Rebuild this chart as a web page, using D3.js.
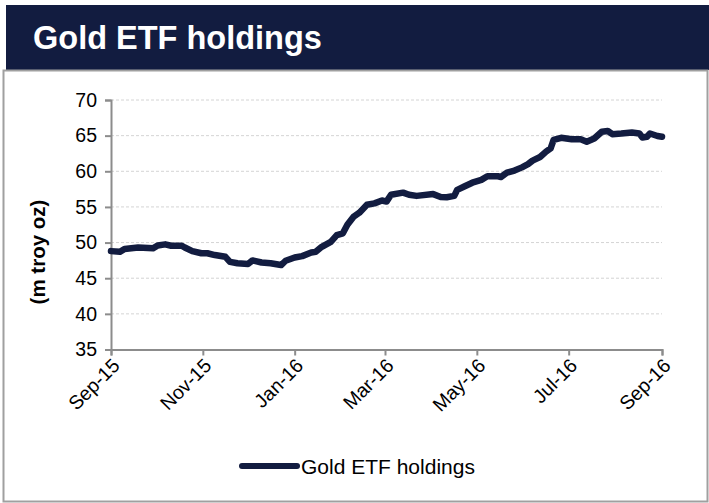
<!DOCTYPE html>
<html>
<head>
<meta charset="utf-8">
<script src="https://cdn.jsdelivr.net/npm/d3@7"></script>
<style>
  body { margin: 0; background: #fff; }
  svg { font-family: "Liberation Sans", Arial, sans-serif; }
</style>
</head>
<body>
<div id="container"></div>
<script>
// Data (m troy oz)
var dates = ["2015-09-01", "2015-09-07", "2015-09-10", "2015-09-19", "2015-09-29", "2015-10-02",
  "2015-10-07", "2015-10-11", "2015-10-18", "2015-10-20", "2015-10-25", "2015-10-31",
  "2015-11-04", "2015-11-09", "2015-11-16", "2015-11-19", "2015-11-24", "2015-12-01",
  "2015-12-04", "2015-12-10", "2015-12-16", "2015-12-23", "2015-12-26", "2016-01-01",
  "2016-01-06", "2016-01-12", "2016-01-15", "2016-01-19", "2016-01-25", "2016-01-29",
  "2016-02-02", "2016-02-05", "2016-02-09", "2016-02-13", "2016-02-18", "2016-02-23",
  "2016-02-28", "2016-03-02", "2016-03-05", "2016-03-13", "2016-03-17", "2016-03-22",
  "2016-04-02", "2016-04-07", "2016-04-11", "2016-04-16", "2016-04-18", "2016-04-23",
  "2016-04-28", "2016-05-04", "2016-05-08", "2016-05-15", "2016-05-17", "2016-05-21",
  "2016-05-26", "2016-05-31", "2016-06-04", "2016-06-07", "2016-06-12", "2016-06-16",
  "2016-06-19", "2016-06-21", "2016-06-26", "2016-07-03", "2016-07-09", "2016-07-13",
  "2016-07-18", "2016-07-23", "2016-07-27", "2016-07-30", "2016-08-05", "2016-08-12",
  "2016-08-17", "2016-08-19", "2016-08-22", "2016-08-24", "2016-08-29", "2016-09-01"];
var holdings = [48.8, 48.7, 49.1, 49.3, 49.2, 49.6,
  49.75, 49.55, 49.55, 49.3, 48.8, 48.5,
  48.5, 48.25, 48.0, 47.3, 47.1, 47.0,
  47.5, 47.2, 47.1, 46.85, 47.45, 47.9,
  48.1, 48.6, 48.7, 49.4, 50.1, 51.05,
  51.3, 52.5, 53.6, 54.2, 55.3, 55.5,
  55.9, 55.75, 56.7, 57.0, 56.7, 56.55,
  56.8, 56.4, 56.35, 56.55, 57.4, 57.9,
  58.4, 58.8, 59.3, 59.3, 59.2, 59.8,
  60.1, 60.55, 61.0, 61.5, 62.0, 62.75,
  63.2, 64.4, 64.7, 64.5, 64.5, 64.15,
  64.6, 65.55, 65.65, 65.2, 65.3, 65.45,
  65.3, 64.75, 64.85, 65.3, 64.95, 64.85];
var yTicks = [35, 40, 45, 50, 55, 60, 65, 70];
var xTicks = ["2015-09-01", "2015-11-01", "2016-01-01", "2016-03-01", "2016-05-01", "2016-07-01", "2016-09-01"];

var parse = d3.timeParse("%Y-%m-%d");
var data = dates.map(function(d, i) { return {date: parse(d), value: holdings[i]}; });

var width = 709, height = 503;
var navy = "#121c40";

var svg = d3.select("#container")
  .append("svg")
    .attr("width", width)
    .attr("height", height);

// Title banner and frame
svg.append("rect")
  .attr("x", 6).attr("y", 5)
  .attr("width", width - 6).attr("height", 65)
  .attr("fill", navy);
svg.append("text")
  .attr("x", 33).attr("y", 49)
  .attr("fill", "#fff")
  .style("font-size", "32.5px")
  .style("font-weight", "bold")
  .text("Gold ETF holdings");
svg.append("rect")
  .attr("x", 3.5).attr("y", 70.5)
  .attr("width", 704).attr("height", 431)
  .attr("fill", "none")
  .attr("stroke", "#a0a0a0")
  .attr("stroke-width", 2);

// Scales
var x = d3.scaleTime()
  .domain([parse("2015-09-01"), parse("2016-09-01")])
  .range([111, 662]);
var y = d3.scaleLinear()
  .domain([35, 70])
  .range([349.5, 100]);

// Gridlines
svg.append("g")
  .selectAll("line")
  .data(yTicks.slice(1))
  .enter()
  .append("line")
    .attr("x1", x.range()[0]).attr("x2", x.range()[1])
    .attr("y1", function(d) { return y(d); })
    .attr("y2", function(d) { return y(d); })
    .attr("stroke", "#d4d4d4")
    .attr("stroke-dasharray", "3,2");

// Axes
var yAxis = svg.append("g")
  .attr("transform", "translate(" + x.range()[0] + ",0)")
  .call(d3.axisLeft(y).tickValues(yTicks).tickSize(6).tickPadding(8));
var xAxis = svg.append("g")
  .attr("transform", "translate(0," + y(35) + ")")
  .call(d3.axisBottom(x).tickValues(xTicks.map(parse)).tickSize(6).tickFormat(d3.timeFormat("%b-%y")));

[yAxis, xAxis].forEach(function(g) {
  g.select(".domain").attr("stroke", "#8c8c8c").attr("stroke-width", 2);
  g.selectAll(".tick line").attr("stroke", "#8c8c8c").attr("stroke-width", 2);
  g.selectAll("text").attr("fill", "#000").style("font-size", "19.5px").style("font-family", "Liberation Sans, Arial, sans-serif");
});

xAxis.selectAll("text")
  .attr("text-anchor", "end")
  .attr("dy", "0")
  .attr("transform", "translate(3,11) rotate(-45)");

// Y axis title
svg.append("text")
  .attr("transform", "translate(45,252) rotate(-90)")
  .attr("text-anchor", "middle")
  .style("font-size", "20.5px")
  .style("font-weight", "bold")
  .text("(m troy oz)");

// Line
var line = d3.line()
  .x(function(d) { return x(d.date); })
  .y(function(d) { return y(d.value); });

svg.append("path")
  .datum(data)
  .attr("d", line)
  .attr("fill", "none")
  .attr("stroke", navy)
  .attr("stroke-width", 6.5)
  .attr("stroke-linejoin", "round")
  .attr("stroke-linecap", "round");

// Legend
var legend = svg.append("g").attr("transform", "translate(242,466)");
legend.append("line")
  .attr("x1", 0).attr("x2", 55)
  .attr("stroke", navy)
  .attr("stroke-width", 6)
  .attr("stroke-linecap", "round");
legend.append("text")
  .attr("x", 59).attr("y", 8)
  .style("font-size", "21px")
  .text("Gold ETF holdings");
</script>
</body>
</html>
